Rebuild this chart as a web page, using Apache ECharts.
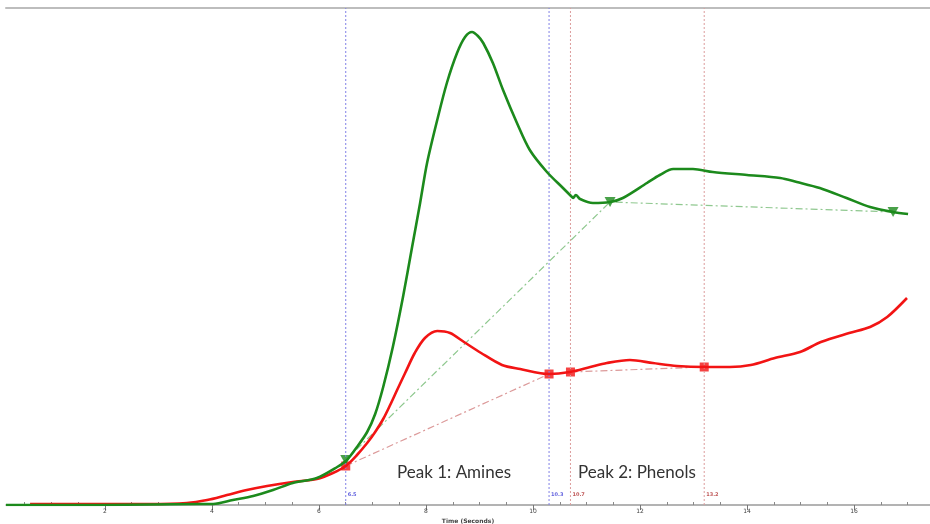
<!DOCTYPE html>
<html>
<head>
<meta charset="utf-8">
<script src="https://cdn.jsdelivr.net/npm/echarts@6/dist/echarts.min.js"></script>
<style>html,body{margin:0;padding:0;background:#fff}#c{width:930px;height:524px}</style>
</head>
<body>
<div id="c"></div>
<script>
// Time (s) and signal (arbitrary units)
const greenTime = [0.15,1.91,2.84,3.78,4.02,4.39,4.77,5.14,5.51,5.96,6.34,6.52,6.71,6.90,7.05,7.20,7.38,7.57,7.74,7.89,8.02,8.21,8.39,8.58,8.73,8.86,8.97,9.07,9.25,9.44,9.70,9.94,10.26,10.56,10.71,10.75,10.80,10.88,11.12,11.44,11.68,12.13,12.37,12.62,12.99,13.36,14.00,14.62,14.93,15.36,15.86,16.30,16.73,17.01];
const greenSignal = [0,0,0.5,1,1,5,9,15,22,27,38,45,58,73,91,118,158,208,258,302,342,385,422,452,468,473,469,462,442,415,382,355,333,317,309,307,310,306,302,303,307,322,330,336,336,333,330,327,323,317,307,298,293,291];
const redTime = [0.60,1.91,2.84,3.53,3.91,4.28,4.65,5.03,5.51,5.96,6.26,6.50,6.71,6.90,7.05,7.20,7.33,7.46,7.61,7.79,7.98,8.21,8.45,8.71,9.03,9.42,9.76,10.30,10.69,11.07,11.38,11.81,12.24,12.69,13.21,13.68,14.07,14.52,14.99,15.38,15.91,16.30,16.62,16.99];
const redSignal = [1,1,1,2,5,10,15,19,23,26,32,39,50,62,73,86,100,115,132,152,167,174,172,163,152,140,136,131,133,138,142,145,142,139,138,138,140,147,153,163,172,178,188,207];
// Integration markers
const greenMarkTime = [6.50,11.44,16.73];
const greenMarkSignal = [45,303,293];
const redMarkTime = [6.50,10.30,10.70,13.20];
const redMarkSignal = [39,131,133,138];
// Vertical cursor lines
const blueCursorTime = [6.5,10.3];
const blueCursorLabel = ['6.5','10.3'];
const redCursorTime = [10.7,13.2];
const redCursorLabel = ['10.7','13.2'];
const cursorLabelLevel = 10;
const signalMax = 497;
// Axis ticks
const majorTicks = [2,4,6,8,10,12,14,16];
const minorTicks = [0.5,1,1.5,2.5,3,3.5,4.5,5,5.5,6.5,7,7.5,8.5,9,9.5,10.5,11,11.5,12.5,13,13.5,14.5,15,15.5,16.5,17];
const peakTexts = ['Peak 1: Amines','Peak 2: Phenols'];

const GREEN = '#1c8a1c', RED = '#f21414';
const zip = (a,b) => a.map((v,i)=>[v,b[i]]);
const greenBase = zip(greenMarkTime, greenMarkSignal);
const redBase = [[redMarkTime[0],redMarkSignal[0]],[redMarkTime[1],redMarkSignal[1]],[null,null],[redMarkTime[2],redMarkSignal[2]],[redMarkTime[3],redMarkSignal[3]]];

function cursorSeries(times, labels, lineColor, textColor){
  const out = times.map(t=>({type:'line',data:[[t,0],[t,signalMax]],symbol:'none',silent:true,
    lineStyle:{color:lineColor,type:[2,2],width:1}}));
  out.push({type:'scatter',data:times.map(t=>[t,cursorLabelLevel]),symbolSize:0,silent:true,
    label:{show:true,position:'right',distance:2,fontSize:5,fontWeight:'bold',color:textColor,fontFamily:'DejaVu Sans',
      formatter:(p)=>labels[p.dataIndex]}});
  return out;
}

const xMin = 0.15, xMax = 17.42;
const chart = echarts.init(document.getElementById('c'));
chart.setOption({
  animation:false,
  backgroundColor:'#fff',
  grid:{left:6,right:0,top:8,bottom:19,outerBoundsMode:'none',containLabel:false},
  xAxis:[
    {type:'value',min:xMin,max:xMax,position:'bottom',
     axisLine:{lineStyle:{color:'#9a9a9a',width:1.5}},
     axisTick:{customValues:majorTicks,length:5,lineStyle:{color:'#777'}},
     axisLabel:{customValues:majorTicks,fontSize:6,color:'#444',margin:3,fontFamily:'DejaVu Sans'},
     splitLine:{show:false},
     name:'Time (Seconds)',nameLocation:'middle',nameGap:10,
     nameTextStyle:{fontSize:6,color:'#444',fontWeight:'bold',fontFamily:'DejaVu Sans'}},
    {type:'value',min:xMin,max:xMax,position:'bottom',
     axisLine:{show:false},
     axisTick:{customValues:minorTicks,length:3,inside:true,lineStyle:{color:'#888'}},
     axisLabel:{show:false},splitLine:{show:false}},
    {type:'value',min:xMin,max:xMax,position:'top',
     axisLine:{lineStyle:{color:'#bdbdbd',width:2}},
     axisTick:{show:false},axisLabel:{show:false},splitLine:{show:false}}
  ],
  yAxis:{type:'value',min:0,max:signalMax,show:false},
  graphic:[
    {type:'text',left:397,top:464,style:{text:peakTexts[0],fontSize:17,fill:'#333',fontFamily:'Lato'}},
    {type:'text',left:578,top:464,style:{text:peakTexts[1],fontSize:17,fill:'#333',fontFamily:'Lato'}}
  ],
  series:[
    ...cursorSeries(blueCursorTime, blueCursorLabel, '#8080e6', '#3a3ad6'),
    ...cursorSeries(redCursorTime, redCursorLabel, '#dc9c9c', '#b03030'),
    {type:'line',data:greenBase,symbol:'none',lineStyle:{color:'#8fc88f',width:1.2,type:[7,3,2,3]}},
    {type:'line',data:redBase,symbol:'none',connectNulls:false,lineStyle:{color:'#dc9a9a',width:1.2,type:[7,3,2,3]}},
    {type:'line',data:zip(redTime,redSignal),symbol:'none',smooth:0.3,lineStyle:{color:RED,width:2.6}},
    {type:'line',data:zip(greenTime,greenSignal),symbol:'none',smooth:0.3,lineStyle:{color:GREEN,width:2.6}},
    {type:'scatter',data:zip(redMarkTime,redMarkSignal),symbol:'rect',symbolSize:9,itemStyle:{color:RED}},
    {type:'scatter',data:zip(greenMarkTime,greenMarkSignal),symbol:'triangle',symbolRotate:180,symbolSize:[11,10],itemStyle:{color:GREEN}}
  ]
});
</script>
</body>
</html>
